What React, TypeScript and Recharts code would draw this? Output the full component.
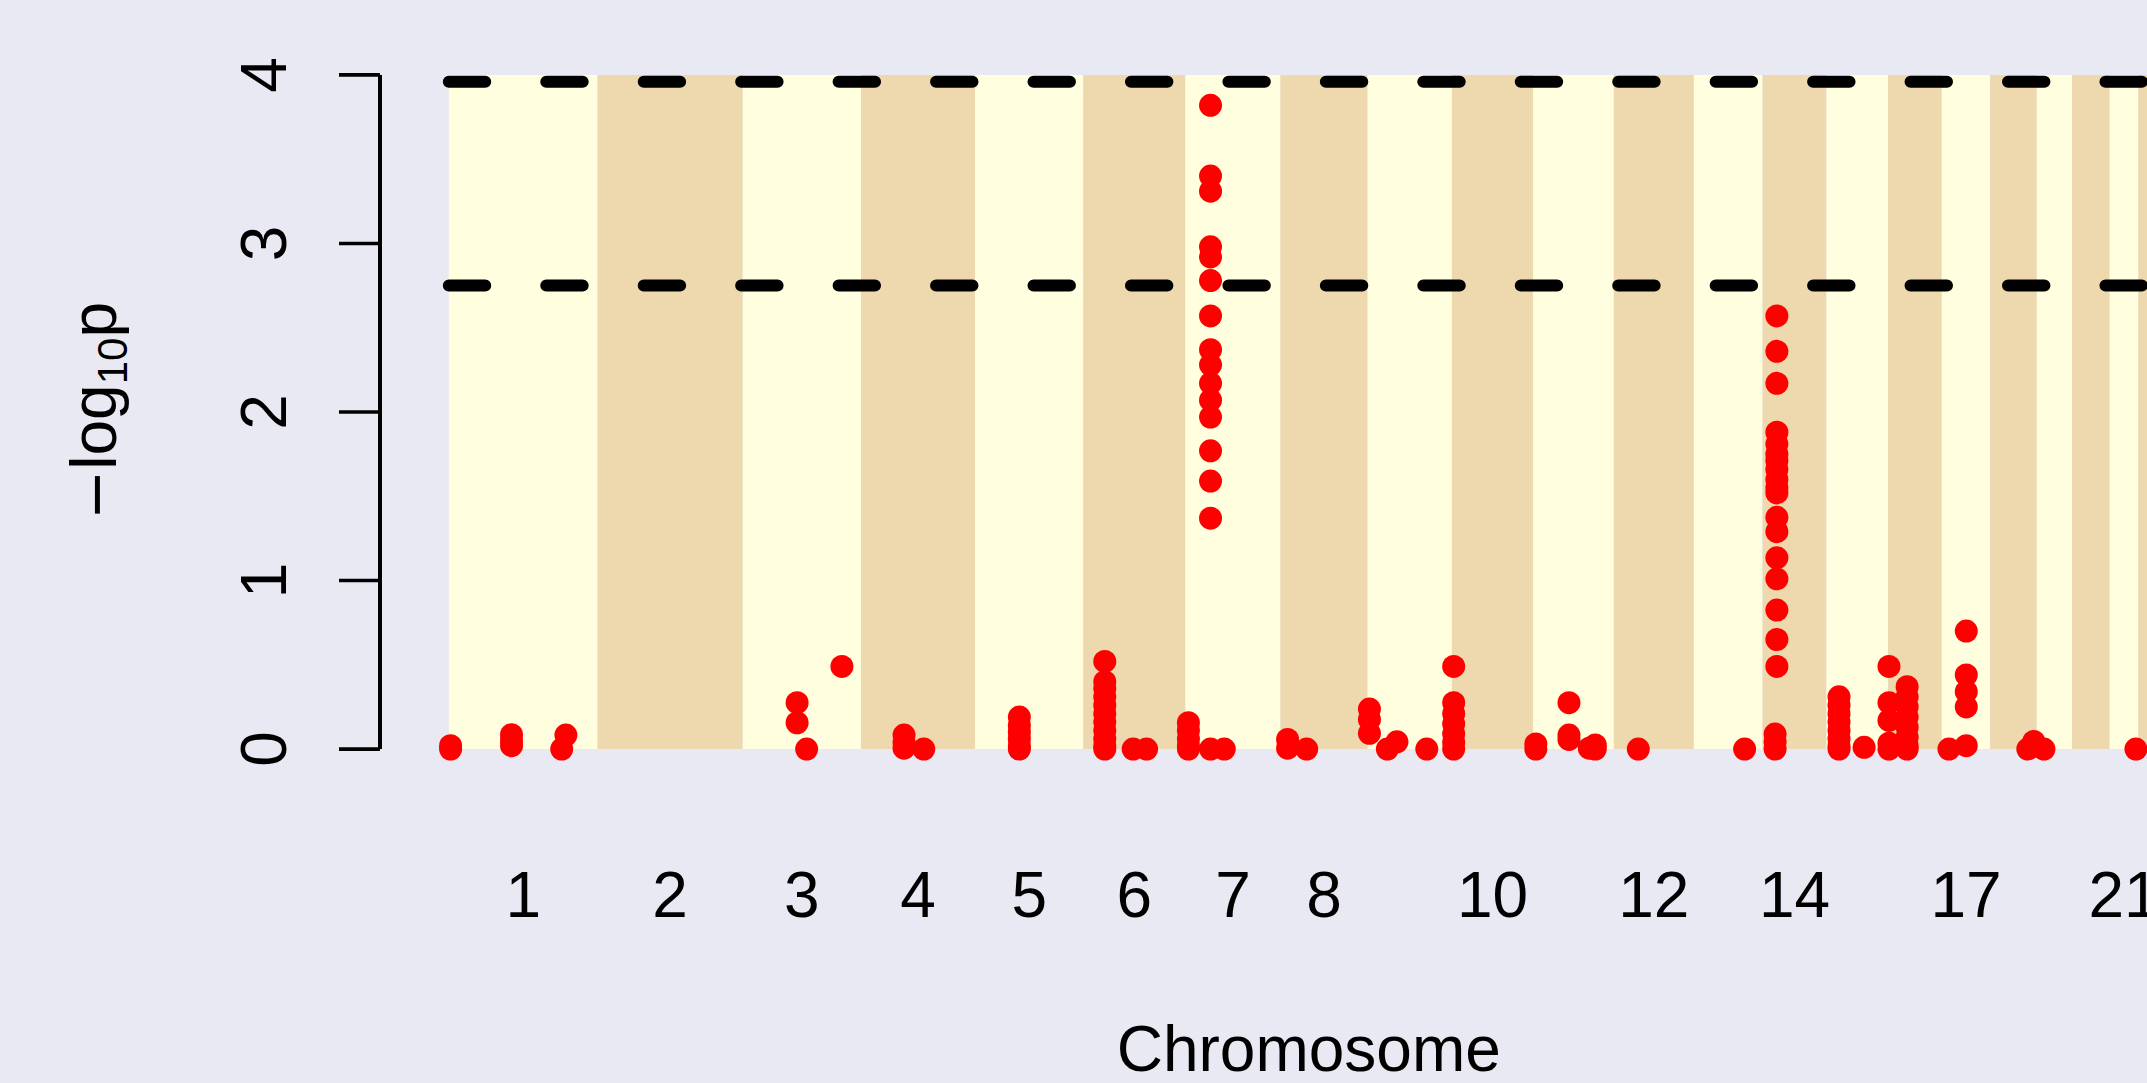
import React from 'react';
import {
  ScatterChart,
  Scatter,
  XAxis,
  YAxis,
  ReferenceArea,
  ReferenceLine,
} from 'recharts';

// ---------- data ----------
const CHROM_NAMES = ['1', '2', '3', '4', '5', '6', '7', '8', '9', '10', '11', '12', '13', '14', '15', '16', '17', '18', '19', '20', '21', '22'];
const CHROM_LENGTHS_MB = [249, 243, 198, 191, 181, 171, 159, 146, 141, 136, 135, 134, 115, 107, 103, 90, 81, 78, 59, 63, 48, 51];
const LABELED_CHROMS = ['1', '2', '3', '4', '5', '6', '7', '8', '10', '12', '14', '17', '21'];
const Y_TICKS = [0, 1, 2, 3, 4];
const SUGGESTIVE_LINE = 2.75;
const GENOMEWIDE_LINE = 3.96;

// [chromosome, position (Mb), -log10 p values at that position]
const SNP_GROUPS: [string, number, number[]][] = [
  ['1', 3, [0.02, 0]],
  ['1', 105, [0.085, 0.05, 0.02]],
  ['1', 189, [0]],
  ['1', 196, [0.083]],
  ['3', 91, [0.275, 0.156]],
  ['3', 107, [0]],
  ['3', 166, [0.49]],
  ['4', 72, [0.083, 0.04, 0.005]],
  ['4', 105, [0]],
  ['5', 74, [0.19, 0.14, 0.1, 0.06, 0.02, 0]],
  ['6', 36, [0.52, 0.4, 0.36, 0.31, 0.26, 0.21, 0.16, 0.11, 0.06, 0.02, 0]],
  ['6', 83.5, [0]],
  ['6', 106, [0]],
  ['7', 5, [0.156, 0.11, 0.06, 0.02, 0]],
  ['7', 42, [3.82, 3.4, 3.31, 2.98, 2.92, 2.78, 2.57, 2.37, 2.28, 2.17, 2.07, 1.97, 1.77, 1.59, 1.37, 0]],
  ['7', 65, [0]],
  ['8', 12, [0.057, 0.005]],
  ['8', 44, [0]],
  ['9', 3, [0.237, 0.176, 0.093]],
  ['9', 33, [0]],
  ['9', 49, [0.043]],
  ['9', 99, [0]],
  ['10', 3, [0.49, 0.275, 0.21, 0.15, 0.09, 0.04, 0]],
  ['11', 4.5, [0.03, 0]],
  ['11', 60, [0.275, 0.083, 0.057]],
  ['11', 94, [0.005]],
  ['11', 104, [0.024, 0]],
  ['12', 41, [0]],
  ['13', 85, [0]],
  ['14', 21, [0.089, 0.043, 0]],
  ['14', 24, [2.57, 2.36, 2.17, 1.88, 1.81, 1.75, 1.71, 1.66, 1.6, 1.55, 1.52, 1.375, 1.29, 1.135, 1.01, 0.825, 0.65, 0.49]],
  ['15', 21, [0.31, 0.26, 0.21, 0.16, 0.11, 0.06, 0.02, 0]],
  ['15', 63, [0.01]],
  ['16', 1.6, [0.49, 0.275, 0.17, 0.035, 0]],
  ['16', 32, [0.37, 0.31, 0.25, 0.19, 0.13, 0.07, 0.02, 0]],
  ['17', 12, [0]],
  ['17', 41, [0.7, 0.44, 0.34, 0.25, 0.02]],
  ['18', 63, [0]],
  ['18', 73, [0.045]],
  ['19', 12, [0]],
  ['21', 44, [0]],
];

// ---------- derived ----------
const CHROM_STARTS: number[] = [];
{
  let acc = 0;
  CHROM_LENGTHS_MB.forEach((len) => {
    CHROM_STARTS.push(acc);
    acc += len;
  });
}
const TOTAL = CHROM_LENGTHS_MB.reduce((a, b) => a + b, 0);
const PAD = TOTAL * 0.04;
const startOf = (c: string) => CHROM_STARTS[CHROM_NAMES.indexOf(c)];
const midOf = (c: string) => startOf(c) + CHROM_LENGTHS_MB[CHROM_NAMES.indexOf(c)] / 2;

const points: { x: number; y: number }[] = [];
SNP_GROUPS.forEach(([c, pos, vals]) => {
  vals.forEach((v) => points.push({ x: startOf(c) + pos, y: v }));
});

const X_TICKS = LABELED_CHROMS.map(midOf);
const tickLabel = (v: number) => {
  const c = LABELED_CHROMS.find((n) => Math.abs(midOf(n) - v) < 1e-6);
  return c ?? '';
};

// ---------- styles ----------
const BG = '#E9E9F3';
const LIGHT = '#FFFFE0';
const TAN = '#EED8AE';
const FONT = '"Liberation Sans", Arial, Helvetica, sans-serif';
const FS = 64;

const XTick = (props: any) => {
  const { x, y, payload } = props;
  return (
    <text x={x} y={y + 141} textAnchor="middle" fontSize={FS} fontFamily={FONT} fill="#000">
      {tickLabel(payload.value)}
    </text>
  );
};

const YTick = (props: any) => {
  const { x, y, payload } = props;
  return (
    <text
      x={x}
      y={y}
      transform={`rotate(-90 ${x} ${y})`}
      textAnchor="middle"
      fontSize={FS}
      fontFamily={FONT}
      fill="#000"
    >
      {payload.value}
    </text>
  );
};

const XTitle = (props: any) => {
  const vb = props.viewBox || { x: 380, y: 776, width: 1857.6, height: 60 };
  const cx = vb.x + vb.width / 2;
  return (
    <text x={cx} y={1071} textAnchor="middle" fontSize={FS} fontFamily={FONT} fill="#000">
      Chromosome
    </text>
  );
};

const YTitle = () => {
  const bx = 116;
  const cy = 411;
  return (
    <text
      x={bx}
      y={cy}
      transform={`rotate(-90 ${bx} ${cy})`}
      textAnchor="middle"
      fontSize={FS}
      fontFamily={FONT}
      fill="#000"
    >
      <tspan fontFamily='"DejaVu Sans", sans-serif' fontSize={60}>−</tspan>
      <tspan>log</tspan>
      <tspan fontSize={42} dy={11}>
        10
      </tspan>
      <tspan dy={-11}>p</tspan>
    </text>
  );
};

const Dot = (props: any) => {
  const { cx, cy } = props;
  if (cx == null || cy == null) return null;
  return <circle cx={cx} cy={cy} r={11.5} fill="#FF0000" />;
};

export default function App() {
  const W = 2300;
  const H = 1083;
  return (
    <div
      style={{
        position: 'fixed',
        left: 0,
        top: 0,
        width: 2147,
        height: 1083,
        overflow: 'hidden',
        background: BG,
      }}
    >
      <ScatterChart
        width={W}
        height={H}
        margin={{ top: 48, right: 62.4, bottom: 247, left: 260 }}
      >
        <XAxis
          type="number"
          dataKey="x"
          domain={[-PAD, TOTAL + PAD]}
          allowDataOverflow
          ticks={X_TICKS}
          interval={0}
          axisLine={false}
          tickLine={false}
          tickSize={0}
          tickMargin={0}
          tick={<XTick />}
          height={60}
          label={<XTitle />}
        />
        <YAxis
          type="number"
          dataKey="y"
          domain={[-0.16, 4.16]}
          allowDataOverflow
          ticks={Y_TICKS}
          interval={0}
          axisLine={false}
          tickLine={{ stroke: '#000', strokeWidth: 3.7 }}
          tickSize={41}
          tickMargin={53}
          tick={<YTick />}
          width={120}
          label={<YTitle />}
        />
        {CHROM_NAMES.map((c, i) => (
          <ReferenceArea
            key={c}
            x1={CHROM_STARTS[i]}
            x2={CHROM_STARTS[i] + CHROM_LENGTHS_MB[i]}
            y1={0}
            y2={4}
            fill={i % 2 === 0 ? LIGHT : TAN}
            fillOpacity={1}
            stroke="none"
            ifOverflow="visible"
          />
        ))}
        <ReferenceLine
          segment={[{ x: -PAD, y: 0 }, { x: -PAD, y: 4 }]}
          stroke="#000"
          strokeWidth={4}
          ifOverflow="visible"
        />
        {[GENOMEWIDE_LINE, SUGGESTIVE_LINE].map((v) => (
          <ReferenceLine
            key={v}
            segment={[{ x: 0, y: v }, { x: TOTAL, y: v }]}
            stroke="#000"
            strokeWidth={12}
            strokeDasharray="36.45 61"
            strokeLinecap="round"
            ifOverflow="visible"
          />
        ))}
        <Scatter data={points} dataKey="y" isAnimationActive={false} shape={<Dot />} />
      </ScatterChart>
    </div>
  );
}
